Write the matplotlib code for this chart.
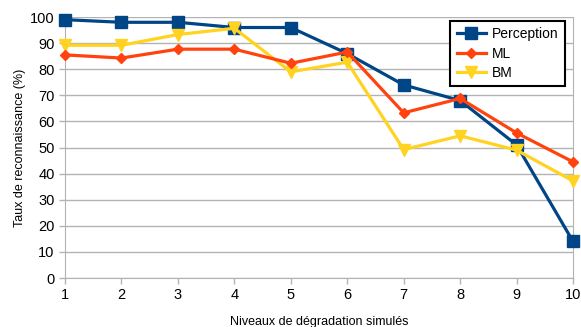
import matplotlib
matplotlib.use("Agg")
import matplotlib.pyplot as plt

plt.rcParams['font.family'] = ['Liberation Sans', 'DejaVu Sans']

levels = [1, 2, 3, 4, 5, 6, 7, 8, 9, 10]
perception = [99, 98, 98, 96, 96, 86, 74, 68, 51, 14]
ml = [85.5, 84.3, 87.7, 87.7, 82.3, 86.6, 63.3, 68.8, 55.6, 44.5]
bm = [89.2, 89.2, 93.3, 95.7, 79, 82.7, 49.2, 54.5, 49, 37.2]

fig = plt.figure(figsize=(5.81, 3.27), dpi=100)
ax = fig.add_axes([0.1119, 0.1498, 0.8744, 0.798])

ax.plot(levels, perception, color='#004586', lw=2.3, marker='s', ms=8.5,
        label='Perception', clip_on=False, zorder=3)
ax.plot(levels, ml, color='#ff420e', lw=2.3, marker='D', ms=5.5,
        label='ML', clip_on=False, zorder=4)
ax.plot(levels, bm, color='#ffd320', lw=2.3, marker='v', ms=9,
        label='BM', clip_on=False, zorder=3)

ax.set_xlim(1, 10)
ax.set_ylim(0, 100)
ax.set_xticks(levels)
ax.set_yticks(range(0, 101, 10))
ax.yaxis.grid(True, color='#b3b3b3', lw=1)
ax.set_axisbelow(True)
ax.spines['top'].set_visible(False)
for s in ['left', 'bottom', 'right']:
    ax.spines[s].set_color('#b3b3b3')
ax.tick_params(axis='both', colors='#b3b3b3', labelcolor='black',
               labelsize=10.5, length=4, width=1)
ax.tick_params(axis='x', pad=3)

ax.set_xlabel('Niveaux de dégradation simulés', fontsize=9, labelpad=10)
ax.set_ylabel('Taux de reconnaissance (%)', fontsize=9, labelpad=3)

leg = ax.legend(loc='upper right', bbox_to_anchor=(0.984, 0.985), fontsize=10,
                frameon=True, fancybox=False, framealpha=1,
                edgecolor='black', handlelength=2.1, borderpad=0.45,
                labelspacing=0.38, handletextpad=0.45, borderaxespad=0)
leg.get_frame().set_linewidth(1.5)

fig.savefig('out.png', dpi=100)
